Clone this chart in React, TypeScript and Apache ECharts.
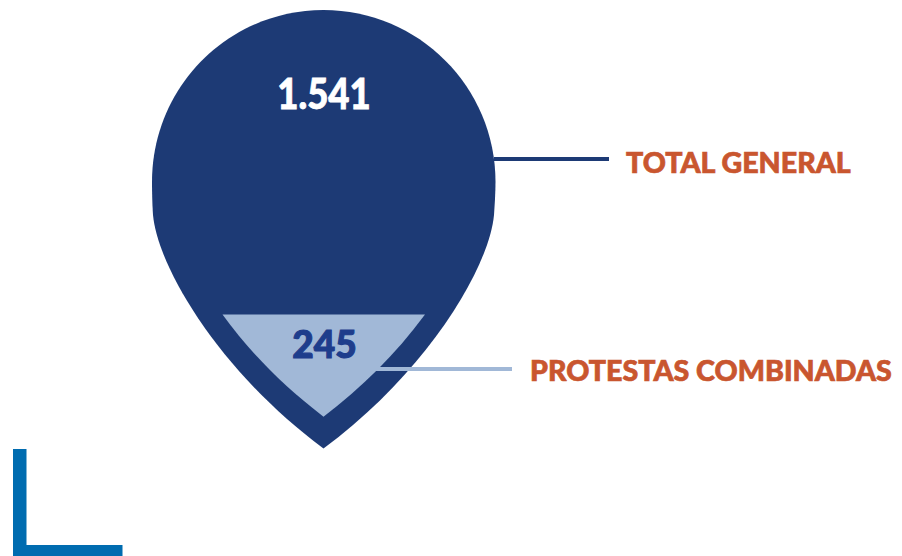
import React, { useEffect, useRef } from "react";
import * as echarts from "echarts";

const categories = ["TOTAL GENERAL", "PROTESTAS COMBINADAS"];
const seriesValues = [1541, 245];
const valueLabels = ["1.541", "245"];

const DROP =
  "M323.5 10 C418.5 10 495.5 87 495.5 182 C495.5 192 494.7 205 494 215 C489 268 427 372 323.5 448.5 C220 372 158 268 153 215 C152.3 205 152 192 152 182 C152 87 228.5 10 323.5 10 Z";
const WEDGE =
  "M222.5 314.5 L425 314.5 C395 355 362 387 323.5 416.7 C285 387 252 355 222.5 314.5 Z";
const CORNER = "M13 449 H26.5 V545 H122.5 V556 H13 Z";

echarts.graphic.registerShape("drop", echarts.graphic.extendPath(DROP, {}));
echarts.graphic.registerShape("wedge", echarts.graphic.extendPath(WEDGE, {}));
echarts.graphic.registerShape("corner", echarts.graphic.extendPath(CORNER, {}));

const FONT = "Lato";

function renderItem(params: any) {
  const i = params.dataIndex;
  const outer = i === 0;
  const labelColor = "#c9562f";
  const valueColor = outer ? "#ffffff" : "#1e3d8c";
  return {
    type: "group",
    children: [
      { type: outer ? "drop" : "wedge", style: { fill: outer ? "#1d3a75" : "#a1b8d7" } },
      {
        type: "rect",
        shape: outer
          ? { x: 494, y: 157, width: 115, height: 4 }
          : { x: 375, y: 367, width: 137, height: 4 },
        style: { fill: outer ? "#1d3a75" : "#a1b8d7" },
      },
      {
        type: "text",
        x: outer ? 324 : 324.5,
        y: outer ? 92.5 : 343.5,
        scaleX: outer ? 0.87 : 1,
        style: {
          text: valueLabels[i],
          x: 0,
          y: 0,
          align: "center",
          verticalAlign: "middle",
          fontFamily: FONT,
          fontWeight: 900,
          fontSize: outer ? 42 : 37,
          fill: valueColor,
          stroke: valueColor,
          lineWidth: outer ? 0.8 : 1.1,
        },
      },
      {
        type: "text",
        x: outer ? 626 : 530,
        y: outer ? 161.5 : 369.5,
        scaleX: 0.987,
        style: {
          text: categories[i],
          x: 0,
          y: 0,
          align: "left",
          verticalAlign: "middle",
          fontFamily: FONT,
          fontWeight: 900,
          fontSize: 29,
          fill: labelColor,
          stroke: labelColor,
          lineWidth: 0.7,
        },
      },
    ],
  };
}

export default function App() {
  const ref = useRef<HTMLDivElement>(null);
  useEffect(() => {
    document.body.style.margin = "0";
    const chart = echarts.init(ref.current!, undefined, { renderer: "svg" });
    chart.setOption({
      animation: false,
      backgroundColor: "#ffffff",
      series: [
        {
          type: "custom",
          coordinateSystem: "none",
          silent: true,
          renderItem,
          data: categories.map((name, i) => ({ name, value: seriesValues[i] })),
        },
      ],
      graphic: [{ type: "corner", style: { fill: "#006cb0" }, silent: true }],
    });
    return () => chart.dispose();
  }, []);
  return <div ref={ref} style={{ width: 902, height: 556 }} />;
}
